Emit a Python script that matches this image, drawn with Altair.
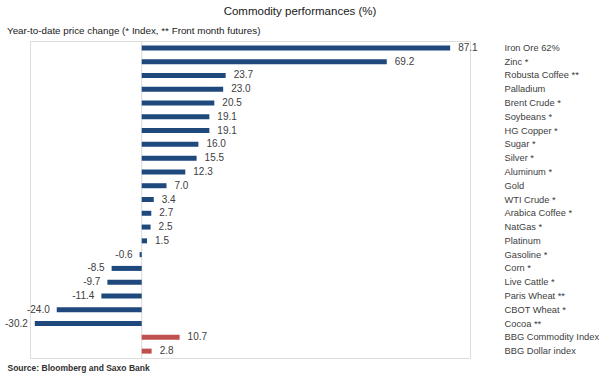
import altair as alt
import pandas as pd

categories = ["Iron Ore 62%", "Zinc *", "Robusta Coffee **", "Palladium", "Brent Crude *",
              "Soybeans *", "HG Copper *", "Sugar *", "Silver *", "Aluminum *", "Gold",
              "WTI Crude *", "Arabica Coffee *", "NatGas *", "Platinum", "Gasoline *",
              "Corn *", "Live Cattle *", "Paris Wheat **", "CBOT Wheat *", "Cocoa **",
              "BBG Commodity Index", "BBG Dollar index"]
values = [87.1, 69.2, 23.7, 23.0, 20.5, 19.1, 19.1, 16.0, 15.5, 12.3, 7.0, 3.4, 2.7, 2.5, 1.5,
          -0.6, -8.5, -9.7, -11.4, -24.0, -30.2, 10.7, 2.8]
groups = ["Commodity"] * 21 + ["Index"] * 2

title_text = "Commodity performances (%)"
subtitle_text = "Year-to-date price change (* Index, ** Front month futures)"
source_text = "Source: Bloomberg and Saxo Bank"

df = pd.DataFrame({"name": categories, "value": values, "group": groups})
df["label"] = df["value"].map(lambda v: f"{v:.1f}")

FONT = "Liberation Sans"
TXT = "#404040"

xscale = alt.Scale(domain=[-31.55, 92.7], nice=False, zero=False)
yscale = alt.Scale(paddingInner=0, paddingOuter=0)

base = alt.Chart(df)

bars = base.mark_bar(size=5).encode(
    x=alt.X("value:Q", scale=xscale,
            axis=alt.Axis(labels=False, ticks=False, domain=False, grid=False,
                          title=source_text, titleX=-23, titleY=9, titleAlign="left",
                          titleAnchor="start", titleBaseline="middle", titleFont=FONT,
                          titleFontSize=8.5, titleFontWeight="bold", titleColor="#303030")),
    y=alt.Y("name:N", sort=categories, scale=yscale,
            axis=alt.Axis(orient="right", title=None, ticks=False, domain=False, grid=False,
                          labelPadding=34, labelAlign="left", labelFont=FONT,
                          labelFontSize=9.3, labelColor=TXT, labelLimit=200)),
    color=alt.Color("group:N", scale=alt.Scale(domain=["Commodity", "Index"],
                                               range=["#1F497D", "#C0504D"]), legend=None),
)

pos_labels = base.transform_filter("datum.value >= 0").mark_text(
    align="left", baseline="middle", dx=8, font=FONT, fontSize=10, color=TXT
).encode(x="value:Q", y=alt.Y("name:N", sort=categories), text="label:N")

neg_labels = base.transform_filter("datum.value < 0").mark_text(
    align="right", baseline="middle", dx=-7, font=FONT, fontSize=10, color=TXT
).encode(x="value:Q", y=alt.Y("name:N", sort=categories), text="label:N")

zero = alt.Chart(pd.DataFrame({"z": [0]})).mark_rule(color="#d9d9d9", strokeWidth=1).encode(
    x="z:Q"
)

subtitle = alt.Chart(pd.DataFrame({"t": [subtitle_text]})).mark_text(
    align="left", baseline="middle", font=FONT, fontSize=9.8, color="#202020"
).encode(x=alt.value(-23), y=alt.value(-10), text="t:N")

chart = alt.layer(zero, bars, pos_labels, neg_labels, subtitle).properties(
    width=440, height=317,
    padding={"left": 30, "top": 41, "right": 130, "bottom": 19},
    autosize=alt.AutoSizeParams(type="none"),
    title=alt.TitleParams(title_text, anchor="middle", dx=50, offset=9, font=FONT,
                          fontSize=11.5, fontWeight="normal", color="#202020"),
).configure_view(stroke=None).configure(background="white")

chart.save("out.html", embed_options={"renderer": "svg", "actions": False})
